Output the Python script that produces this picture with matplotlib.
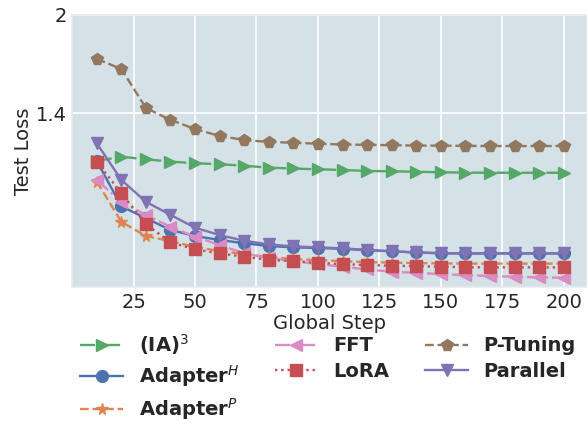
import matplotlib
matplotlib.use('Agg')
import matplotlib.pyplot as plt

steps = [10, 20, 30, 40, 50, 60, 70, 80, 90, 100,
         110, 120, 130, 140, 150, 160, 170, 180, 190, 200]

ia3 = [1.109, 1.135, 1.119, 1.105, 1.095, 1.089, 1.080, 1.068, 1.063, 1.058,
       1.054, 1.048, 1.046, 1.043, 1.040, 1.038, 1.037, 1.037, 1.037, 1.037]
adapter_h = [1.109, 0.832, 0.760, 0.688, 0.651, 0.627, 0.607, 0.590, 0.582, 0.578,
             0.573, 0.565, 0.558, 0.551, 0.546, 0.545, 0.545, 0.545, 0.545, 0.545]
adapter_p = [0.983, 0.738, 0.651, 0.620, 0.584, 0.560, 0.541, 0.523, 0.511, 0.504,
             0.498, 0.492, 0.489, 0.486, 0.484, 0.483, 0.483, 0.483, 0.483, 0.483]
fft = [0.993, 0.860, 0.779, 0.708, 0.647, 0.596, 0.545, 0.517, 0.498, 0.480,
       0.464, 0.448, 0.433, 0.427, 0.419, 0.413, 0.407, 0.403, 0.399, 0.397]
lora = [1.105, 0.912, 0.724, 0.612, 0.570, 0.545, 0.525, 0.506, 0.498, 0.488,
        0.480, 0.474, 0.470, 0.468, 0.464, 0.461, 0.460, 0.460, 0.460, 0.460]
p_tuning = [1.731, 1.670, 1.432, 1.359, 1.304, 1.261, 1.237, 1.225, 1.220, 1.214,
            1.209, 1.207, 1.205, 1.203, 1.202, 1.201, 1.200, 1.200, 1.200, 1.200]
parallel = [1.217, 0.993, 0.860, 0.780, 0.702, 0.657, 0.622, 0.600, 0.588, 0.582,
            0.576, 0.566, 0.558, 0.551, 0.546, 0.545, 0.545, 0.545, 0.545, 0.545]

labels = [r'(IA)$^3$', r'Adapter$^H$', r'Adapter$^P$', 'FFT', 'LoRA', 'P-Tuning', 'Parallel']
series = [ia3, adapter_h, adapter_p, fft, lora, p_tuning, parallel]

colors = ['#55a868', '#4c72b0', '#dd8452', '#da8bc3', '#c44e52', '#937860', '#8172b3']
markers = ['>', 'o', '*', '<', 's', 'p', 'v']
styles = ['-.', '-', '--', '-.', ':', '--', '-']

fig = plt.figure(figsize=(5.87, 4.24), dpi=100)
ax = fig.add_axes([0.123, 0.323, 0.877, 0.642])
ax.set_facecolor('#d4e2e7')
ax.set_axisbelow(True)
ax.grid(color='white', linewidth=1.2)
for s in ax.spines.values():
    s.set_color('#e6ebed')
    s.set_linewidth(1.2)

for y, lab, c, m, ls in zip(series, labels, colors, markers, styles):
    ax.plot(steps, y, label=lab, color=c, marker=m, linestyle=ls,
            markersize=8.5, linewidth=1.7)

ax.set_xlim(0, 209.5)
ax.set_ylim(0.34, 2.0)
ax.set_xticks([25, 50, 75, 100, 125, 150, 175, 200])
ax.set_yticks([1.4, 2])
ax.set_yticklabels(['1.4', '2'])
ax.tick_params(labelsize=14, length=0, pad=4, colors='#262626')
ax.set_xlabel('Global Step', fontsize=14, labelpad=2, color='#262626')
ax.set_ylabel('Test Loss', fontsize=14, labelpad=2, color='#262626')

leg = ax.legend(loc='upper center', bbox_to_anchor=(0.497, -0.10), ncol=3,
                frameon=False, prop={'weight': 'bold', 'size': 14},
                handlelength=2.2, columnspacing=1.85, labelspacing=0.35,
                handletextpad=0.8, markerscale=1.0)
for t in leg.get_texts():
    t.set_color('#262626')

fig.savefig('out.png', dpi=100)
